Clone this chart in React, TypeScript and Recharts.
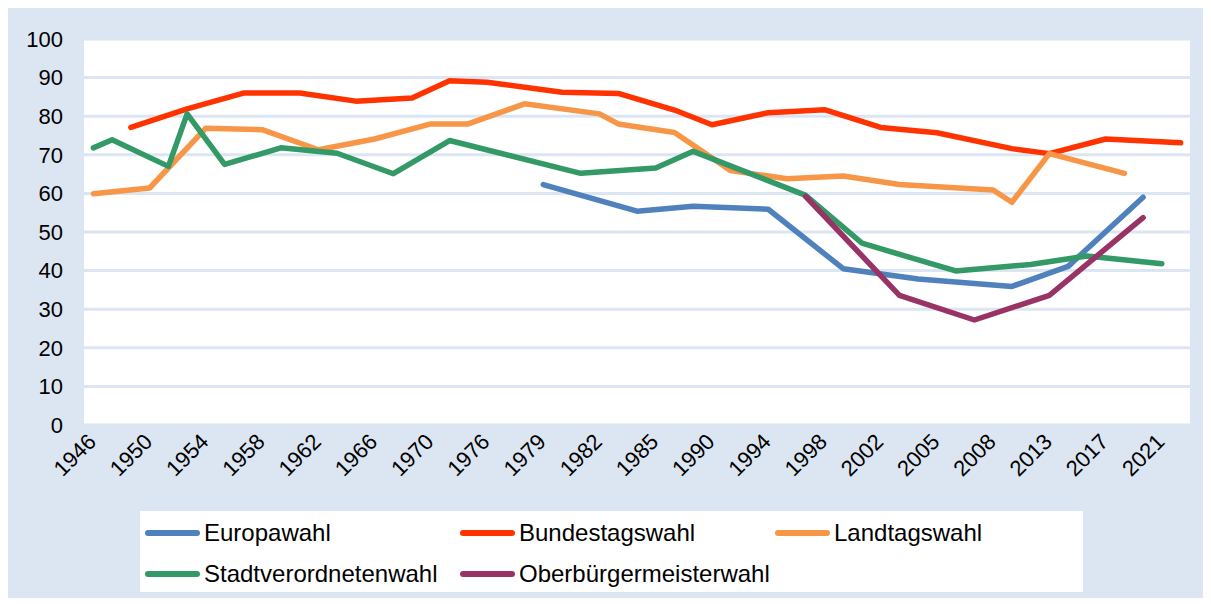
import { CartesianGrid, Line, LineChart, XAxis, YAxis } from "recharts";

// one entry per election date; only every third one is labelled on the axis
const years = [
  "1946", "1948", "1949", "1950", "1952", "1953", "1954", "1956", "1957", "1958",
  "1960", "1961", "1962", "1964", "1965", "1966", "1968", "1969", "1970", "1972",
  "1974", "1976", "1977", "1978", "1979", "1980", "1981", "1982", "1983", "1984",
  "1985", "1987", "1989", "1990", "1991", "1993", "1994", "1995", "1997", "1998",
  "1999", "2001", "2002", "2003", "2004", "2005", "2006", "2007", "2008", "2009",
  "2011", "2013", "2014", "2016", "2017", "2018", "2019", "2021", "2021",
];

// [index into years, turnout in %]
const europawahl: [number, number][] = [
  [24, 62.3], [29, 55.4], [32, 56.7], [36, 55.9], [40, 40.5], [44, 37.8], [49, 35.9], [52, 41.1], [56, 59.0],
];
const bundestagswahl: [number, number][] = [
  [2, 77.1], [5, 81.9], [8, 86.0], [11, 86.0], [14, 83.9], [17, 84.7], [19, 89.2], [21, 88.8], [25, 86.2], [28, 85.9],
  [31, 81.6], [33, 77.8], [36, 80.9], [39, 81.7], [42, 77.1], [45, 75.7], [49, 71.6], [51, 70.3], [54, 74.1], [58, 73.1],
];
const landtagswahl: [number, number][] = [
  [0, 59.9], [3, 61.4], [6, 76.9], [9, 76.5], [12, 71.3], [15, 74.1], [18, 78.0], [20, 78.0], [23, 83.2], [27, 80.6],
  [28, 78.0], [31, 75.8], [34, 65.9], [37, 63.8], [40, 64.5], [43, 62.3], [48, 60.9], [49, 57.7], [51, 70.3], [55, 65.2],
];
const stadtverordnetenwahl: [number, number][] = [
  [0, 71.8], [1, 73.9], [4, 67.0], [5, 80.6], [7, 67.5], [10, 71.8], [13, 70.4], [16, 65.1], [19, 73.7], [26, 65.2],
  [30, 66.6], [32, 70.9], [38, 59.5], [41, 47.1], [46, 39.9], [50, 41.6], [53, 43.8], [57, 41.8],
];
const oberbuergermeisterwahl: [number, number][] = [
  [38, 59.2], [43, 33.6], [47, 27.2], [51, 33.6], [56, 53.7],
];

const yTicks = [0, 10, 20, 30, 40, 50, 60, 70, 80, 90, 100];

const series = [
  { key: "Europawahl", points: europawahl, color: "#4f81bd" },
  { key: "Bundestagswahl", points: bundestagswahl, color: "#ff3300" },
  { key: "Landtagswahl", points: landtagswahl, color: "#f79646" },
  { key: "Stadtverordnetenwahl", points: stadtverordnetenwahl, color: "#339966" },
  { key: "Oberbürgermeisterwahl", points: oberbuergermeisterwahl, color: "#993366" },
];

const rows = years.map((year, i) => {
  const row: Record<string, number | string | null> = { i, year };
  for (const s of series) {
    const hit = s.points.find((p) => p[0] === i);
    row[s.key] = hit ? hit[1] : null;
  }
  return row;
});

const FONT = '"Liberation Sans", Arial, sans-serif';
const BG = "#dce6f2";

function YearTick({ x, y, payload }: any) {
  const ax = x + 4;
  const ay = y + 18;
  return (
    <text
      x={ax}
      y={ay}
      transform={`rotate(-45 ${ax} ${ay})`}
      textAnchor="end"
      fontSize={22}
      fontFamily={FONT}
      fill="#000"
    >
      {years[payload.value]}
    </text>
  );
}

export default function App() {
  return (
    <div style={{ position: "relative", width: 1195, height: 590, background: BG }}>
      <LineChart width={1195} height={590} data={rows} margin={{ top: 31, right: 13, bottom: 113, left: 0 }}>
        <CartesianGrid vertical={false} stroke={BG} strokeWidth={3} fill="#fff" />
        <XAxis
          dataKey="i"
          type="category"
          interval={2}
          padding={{ left: 9.4, right: 9.4 }}
          axisLine={false}
          tickLine={false}
          tickSize={0}
          tickMargin={0}
          height={60}
          tick={<YearTick />}
        />
        <YAxis
          domain={[0, 100]}
          ticks={yTicks}
          width={76}
          axisLine={false}
          tickLine={false}
          tickSize={0}
          tickMargin={21}
          tick={{ fill: "#000", fontSize: 22, fontFamily: FONT }}
        />
        {series.map((s) => (
          <Line
            key={s.key}
            dataKey={s.key}
            stroke={s.color}
            strokeWidth={5.5}
            strokeLinecap="round"
            strokeLinejoin="round"
            dot={false}
            activeDot={false}
            connectNulls
            isAnimationActive={false}
          />
        ))}
      </LineChart>
      <div
        style={{
          position: "absolute",
          left: 132,
          top: 503,
          width: 943,
          height: 81,
          background: "#fff",
          display: "grid",
          gridTemplateColumns: "315px 315px 308px",
          gridAutoRows: "41px",
          fontFamily: FONT,
          fontSize: 24,
          color: "#000",
          boxSizing: "border-box",
          paddingLeft: 5,
          paddingTop: 1,
        }}
      >
        {series.map((s) => (
          <div key={s.key} style={{ display: "flex", alignItems: "center", whiteSpace: "nowrap" }}>
            <span
              style={{ display: "inline-block", width: 55, height: 6, borderRadius: 3, background: s.color, marginRight: 4 }}
            />
            <span>{s.key}</span>
          </div>
        ))}
      </div>
    </div>
  );
}
